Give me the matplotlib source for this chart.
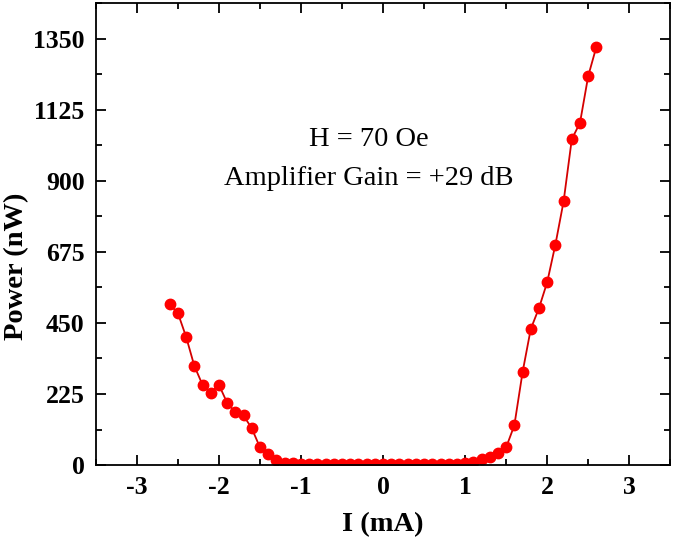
import numpy as np
import matplotlib
matplotlib.use("Agg")
import matplotlib.pyplot as plt
from matplotlib.ticker import MultipleLocator

# Current (mA), 0.1 mA steps
current = [-2.6, -2.5, -2.4, -2.3, -2.2, -2.1, -2.0, -1.9, -1.8, -1.7,
           -1.6, -1.5, -1.4, -1.3, -1.2, -1.1, -1.0, -0.9, -0.8, -0.7,
           -0.6, -0.5, -0.4, -0.3, -0.2, -0.1, 0.0, 0.1, 0.2, 0.3,
           0.4, 0.5, 0.6, 0.7, 0.8, 0.9, 1.0, 1.1, 1.2, 1.3,
           1.4, 1.5, 1.6, 1.7, 1.8, 1.9, 2.0, 2.1, 2.2, 2.3,
           2.4, 2.5, 2.6]

# Power (nW)
power = [509, 481, 406, 314, 254, 229, 254, 197, 167, 157,
         116, 56, 35, 16, 8, 5, 4, 3, 3, 3,
         3, 3, 3, 3, 3, 3, 3, 3, 3, 3,
         3, 3, 3, 3, 3, 4, 5, 10, 18, 26,
         37, 56, 126, 294, 431, 497, 579, 698, 835, 1032,
         1084, 1232, 1325]

plt.rcParams["font.family"] = ["Liberation Serif", "DejaVu Serif"]
plt.rcParams["axes.unicode_minus"] = False

fig = plt.figure(figsize=(6.75, 5.42), dpi=100)
ax = fig.add_axes([0.142, 0.142, 0.851, 0.852])

ax.plot(current, power, color="#d40000", linewidth=1.3, marker="o",
        markersize=7.5, markerfacecolor="#ff0000", markeredgecolor="#ff0000")

ax.set_xlim(-3.5, 3.5)
ax.set_ylim(0, 1462.5)
ax.xaxis.set_major_locator(MultipleLocator(1))
ax.xaxis.set_minor_locator(MultipleLocator(0.5))
ax.yaxis.set_major_locator(MultipleLocator(225))
ax.yaxis.set_minor_locator(MultipleLocator(112.5))
ax.tick_params(which="both", direction="in", top=True, right=True, width=1.3)
ax.tick_params(which="major", length=7, labelsize=18.5, pad=8)
ax.tick_params(which="minor", length=4)
for lab in ax.get_xticklabels() + ax.get_yticklabels():
    lab.set_fontweight("bold")
for sp in ax.spines.values():
    sp.set_linewidth(1.3)

ax.set_xlabel("I (mA)", fontsize=20.5, fontweight="bold", labelpad=9)
ax.set_ylabel("Power (nW)", fontsize=20.5, fontweight="bold")
ax.yaxis.set_label_coords(-0.117, 0.43)

ax.text(-0.17, 970, "H = 70 Oe\nAmplifier Gain = +29 dB", ha="center",
        va="center", fontsize=20.5, linespacing=1.75)

fig.savefig("out.png", dpi=100)
